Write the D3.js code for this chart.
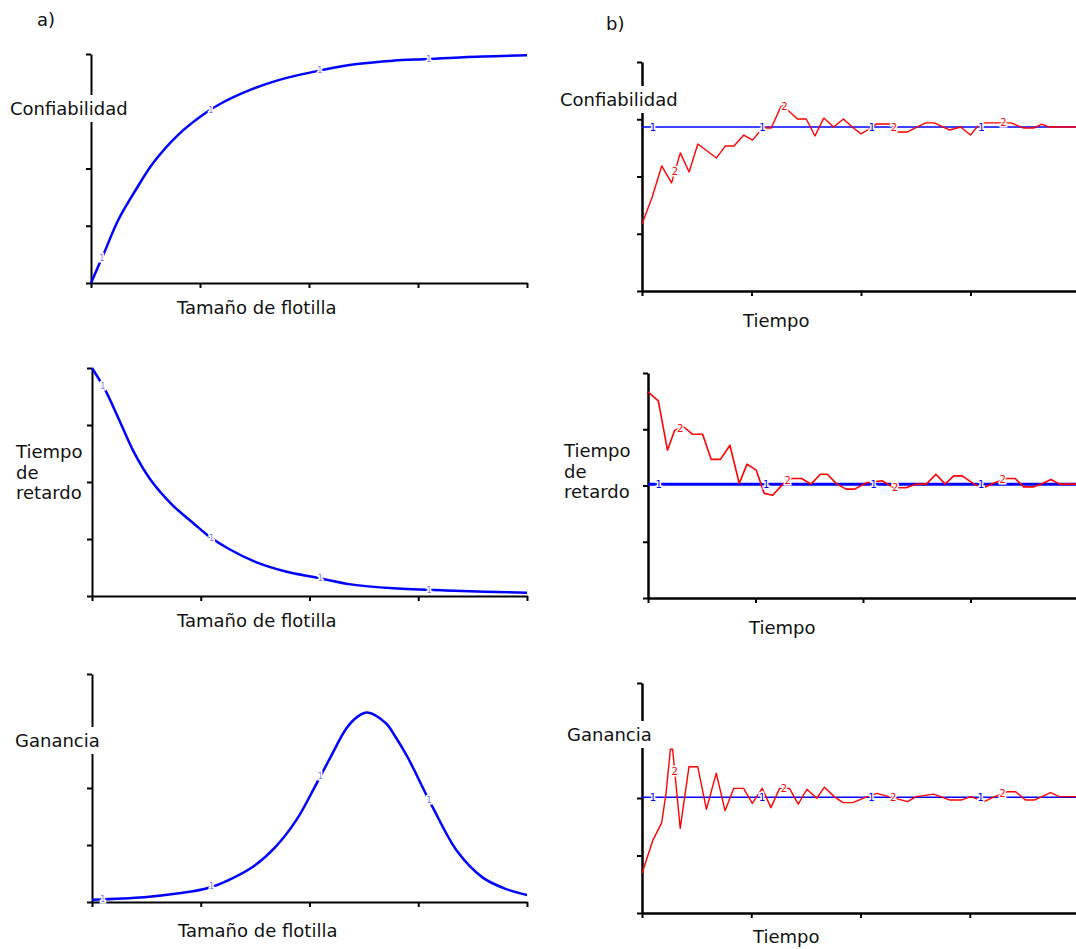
<!DOCTYPE html>
<html>
<head>
<meta charset="utf-8">
<script src="https://cdn.jsdelivr.net/npm/d3@7"></script>
<style>
  body { margin: 0; background: #fff; }
  text { font-family: "DejaVu Sans", Verdana, sans-serif; }
</style>
</head>
<body>
<script>
// ticks shared by every panel (axes carry no numbers)
const fleetTicks = [0, 10, 20, 30, 40];
const timeTicks = [0, 10, 20, 30, 40];
const levelTicks = [0, 25, 50, 75, 100];

// a) steady-state curves vs fleet size
const confFleet = [0, 1.2, 2.5, 4.1, 5.7, 8, 10.5, 12, 14.6, 17.2, 20.5, 24.4, 27.7, 31, 34.2, 40];
const confValue = [0, 13.1, 27.5, 40.6, 52.4, 64.7, 74.2, 78.6, 84.3, 88.6, 92.3, 95.6, 97.1, 97.8, 98.6, 99.4];

const delayFleet = [0, 1.2, 2.5, 3.9, 5.4, 7.4, 9.4, 10.6, 12.6, 15.2, 17.9, 20.5, 23.8, 27.7, 33.3, 40];
const delayValue = [100, 90.5, 77.2, 62.7, 50.9, 39.9, 31.6, 26.8, 20.6, 14.6, 10.6, 8.2, 5.1, 3.4, 2.3, 1.4];

const gainFleet = [0, 4.8, 8, 10.6, 12.9, 14.9, 16.9, 18.8, 20.5, 21.8, 23.4, 24.4, 25.3, 27, 27.9, 29, 31.3, 33.6, 35.9, 37.9, 40];
const gainValue = [1, 2.1, 3.8, 6, 10.4, 15.8, 24.3, 36, 50.6, 62.3, 76.2, 81.2, 83.1, 78.5, 72.5, 63.7, 41.8, 22.1, 10.8, 6, 3.1];

// b) time responses (red, "2") and their reference level (blue, "1")
const confTime = [0, 0.9, 1.8, 2.7, 3.5, 4.3, 5.1, 6.8, 7.6, 8.4, 9.3, 10.1, 11, 11.8, 12.8, 13.1, 14.2, 15, 15.8, 16.6, 17.5,
  18.4, 19.2, 20, 20.6, 21.4, 22.8, 23.3, 24.2, 25.9, 26.7, 28.1, 29.1, 30, 30.9, 33.1, 33.7, 34.8, 35.8, 36.5, 37.2, 40];
const confResponse = [29.3, 40.6, 54.6, 47.2, 60.3, 52, 64.2, 58.1, 63.3, 63.3, 68.1, 65.9, 71.2, 71.2, 81.7, 79.9, 75.1, 75.1, 67.7, 75.5, 71.6,
  75.1, 71.6, 68.6, 70.3, 72.9, 72.9, 69.4, 69.4, 73.4, 73.4, 70.3, 71.6, 68.1, 73.4, 73.4, 73.4, 71.2, 71.2, 72.9, 71.6, 71.6];

const delayTime = [0, 0.96, 1.81, 2.48, 3.34, 4.12, 5.08, 5.88, 6.74, 7.62, 8.49, 9.21, 10.07, 10.81, 11.6, 12.55, 13.35, 14.29, 15.16, 16.04,
  16.68, 17.57, 18.43, 19.22, 20.33, 21.77, 22.87, 23.99, 24.93, 25.89, 26.78, 27.64, 28.44, 29.23, 30.34, 31.13, 32.25, 33.36, 34.15, 34.95,
  35.9, 36.7, 37.48, 38.29, 40];
const delayResponse = [91.6, 87.6, 65.7, 74.6, 76, 72.8, 72.8, 61.6, 61.6, 67.9, 50.9, 59.5, 56.8, 46.5, 45.7, 50.6, 53.1, 53.1, 50.6, 55,
  55, 50.6, 48.4, 48.4, 51.2, 52.1, 49, 49, 50.6, 50.6, 55, 50.6, 54.3, 54.3, 50.6, 48.8, 51.2, 53.1, 53.1, 49.4,
  49.4, 50.9, 52.7, 50.6, 50.6];

const gainTime = [0, 1, 1.8, 2.2, 2.6, 2.8, 3.5, 4.3, 5.1, 5.9, 6.8, 7.6, 8.4, 9.3, 10.1, 11, 11.8, 12.6, 13.5, 14.3,
  15.1, 16, 16.7, 17.6, 18.4, 19.3, 20.6, 21.5, 22.6, 24.3, 25.1, 26.7, 28.2, 29.2, 30.1, 31.3, 32.3, 33.4, 34.2, 35.1,
  35.9, 37.4, 38.2, 40];
const gainResponse = [17.2, 31.7, 39.2, 52, 71.2, 71.2, 36.8, 63.6, 63.6, 45.1, 60.8, 44.5, 54.2, 54.2, 47.7, 54.2, 45.8, 54.2, 54.2, 47.3,
  53.8, 49.9, 54.7, 50.6, 48, 48, 50.6, 52, 50.6, 48.4, 50.6, 51.7, 49.1, 49.1, 50.6, 48.4, 50.6, 52.7, 52.7, 49.1,
  49.1, 52.3, 50.6, 50.6];

const refLevels = [71.6, 50.6, 50.3];

// where the plotting tool put its little line numbers
const markerAt1 = [1, 11, 21, 31];
const markerAt2 = [3, 13, 23, 33];

const W = 1076, H = 949;
const BLUE = '#0000ff', RED = '#ff0000';

const svg = d3.select('body').append('svg')
  .attr('width', W)
  .attr('height', H);

// linear lookup along a polyline, only used to seat the line numbers
function valueAt(xs, ys, t) {
  const i = Math.max(1, Math.min(xs.length - 1, d3.bisectLeft(xs, t)));
  const f = (t - xs[i - 1]) / (xs[i] - xs[i - 1]);
  return ys[i - 1] + f * (ys[i] - ys[i - 1]);
}

function drawPanel(p) {
  const g = svg.append('g');
  const x = d3.scaleLinear().domain([0, 40]).range(p.xRange);
  const y = d3.scaleLinear().domain([0, 100]).range(p.yRange);

  const xAxis = g.append('g')
    .attr('transform', `translate(0,${p.yRange[0]})`)
    .call(d3.axisBottom(x).tickValues(p.xTicks).tickFormat('').tickSize(5).tickSizeOuter(0));
  const yAxis = g.append('g')
    .attr('transform', `translate(${p.xRange[0]},0)`)
    .call(d3.axisLeft(y).tickValues(levelTicks).tickFormat('').tickSize(5).tickSizeOuter(0));
  [xAxis, yAxis].forEach(a => {
    a.select('.domain').attr('stroke', '#000').attr('stroke-width', p.axisWidth);
    a.selectAll('.tick line').attr('stroke', '#000').attr('stroke-width', 2);
  });

  const line = d3.line()
    .x(d => x(d[0]))
    .y(d => y(d[1]))
    .curve(p.smooth ? d3.curveCatmullRom.alpha(0.5) : d3.curveLinear);

  if (p.ref !== undefined) {
    g.append('path')
      .datum([[0, p.ref], [40, p.ref]])
      .attr('d', line)
      .attr('fill', 'none')
      .attr('stroke', BLUE)
      .attr('stroke-width', p.refWidth);
  }

  g.append('path')
    .datum(p.xs.map((v, i) => [v, p.ys[i]]))
    .attr('d', line)
    .attr('fill', 'none')
    .attr('stroke', p.color)
    .attr('stroke-width', p.lineWidth)
    .attr('stroke-linejoin', 'round');

  // line numbers with a white halo that cuts the line
  const marks = [];
  if (p.ref !== undefined) {
    markerAt1.forEach(t => marks.push({ t, v: p.ref, label: '1', color: BLUE }));
    markerAt2.forEach(t => marks.push({ t, v: valueAt(p.xs, p.ys, t), label: '2', color: RED }));
  } else {
    markerAt1.forEach(t => marks.push({ t, v: valueAt(p.xs, p.ys, t), label: '1', color: BLUE }));
  }
  g.selectAll('.mark')
    .data(marks)
    .enter()
    .append('text')
    .attr('class', 'mark')
    .attr('x', d => x(d.t))
    .attr('y', d => y(d.v))
    .attr('dy', '0.35em')
    .attr('text-anchor', 'middle')
    .attr('font-size', p.markSize)
    .attr('fill', d => d.color)
    .attr('fill-opacity', p.markOpacity)
    .attr('stroke', '#fff')
    .attr('stroke-width', 3)
    .attr('paint-order', 'stroke')
    .text(d => d.label);

  // y title on a white box (it hides part of the axis)
  const title = g.append('text')
    .attr('font-size', 18)
    .attr('fill', '#111');
  p.yTitle.forEach((s, i) => {
    title.append('tspan')
      .attr('x', p.yTitlePos[0])
      .attr('y', p.yTitlePos[1] + i * 20.5)
      .text(s);
  });
  const bb = title.node().getBBox();
  g.insert('rect', () => title.node())
    .attr('x', bb.x - 2)
    .attr('y', bb.y - 3)
    .attr('width', bb.width + 4)
    .attr('height', bb.height + 6)
    .attr('fill', '#fff');

  g.append('text')
    .attr('x', p.xTitlePos[0])
    .attr('y', p.xTitlePos[1])
    .attr('font-size', 18)
    .attr('fill', '#111')
    .text(p.xTitle);
}

const panels = [
  { xRange: [91, 527], yRange: [283, 54], xTicks: fleetTicks, xs: confFleet, ys: confValue, color: BLUE, lineWidth: 2.5,
    smooth: true, axisWidth: 2, markSize: 8, markOpacity: 0.6, yTitle: ['Confiabilidad'], yTitlePos: [10, 115],
    xTitle: 'Tamaño de flotilla', xTitlePos: [177, 314] },
  { xRange: [92, 527], yRange: [596, 368], xTicks: fleetTicks, xs: delayFleet, ys: delayValue, color: BLUE, lineWidth: 2.5,
    smooth: true, axisWidth: 2, markSize: 8, markOpacity: 0.6, yTitle: ['Tiempo', 'de', 'retardo'], yTitlePos: [16, 458],
    xTitle: 'Tamaño de flotilla', xTitlePos: [177, 627] },
  { xRange: [92, 527], yRange: [902, 674], xTicks: fleetTicks, xs: gainFleet, ys: gainValue, color: BLUE, lineWidth: 2.5,
    smooth: true, axisWidth: 2, markSize: 8, markOpacity: 0.6, yTitle: ['Ganancia'], yTitlePos: [15, 747],
    xTitle: 'Tamaño de flotilla', xTitlePos: [178, 937] },
  { xRange: [642, 1080], yRange: [291, 62], xTicks: timeTicks, xs: confTime, ys: confResponse, color: RED, lineWidth: 1.4,
    smooth: false, axisWidth: 2.5, markSize: 10, markOpacity: 1, ref: refLevels[0], refWidth: 1.4, yTitle: ['Confiabilidad'], yTitlePos: [560, 106],
    xTitle: 'Tiempo', xTitlePos: [743, 327] },
  { xRange: [648, 1078], yRange: [598, 373], xTicks: timeTicks, xs: delayTime, ys: delayResponse, color: RED, lineWidth: 1.6,
    smooth: false, axisWidth: 2.5, markSize: 10, markOpacity: 1, ref: refLevels[1], refWidth: 3, yTitle: ['Tiempo', 'de', 'retardo'], yTitlePos: [564, 457],
    xTitle: 'Tiempo', xTitlePos: [749, 634] },
  { xRange: [642, 1079], yRange: [913, 683], xTicks: timeTicks, xs: gainTime, ys: gainResponse, color: RED, lineWidth: 1.4,
    smooth: false, axisWidth: 2.5, markSize: 10, markOpacity: 1, ref: refLevels[2], refWidth: 1.4, yTitle: ['Ganancia'], yTitlePos: [567, 741],
    xTitle: 'Tiempo', xTitlePos: [753, 943] }
];

panels.forEach(drawPanel);

// panel letters
svg.append('text').attr('x', 37).attr('y', 26).attr('font-size', 18).attr('fill', '#111').text('a)');
svg.append('text').attr('x', 606).attr('y', 30).attr('font-size', 18).attr('fill', '#111').text('b)');
</script>
</body>
</html>
